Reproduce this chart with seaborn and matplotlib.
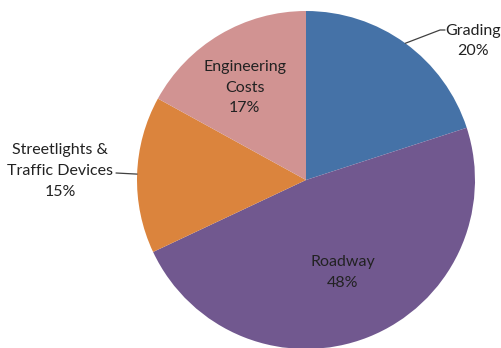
import numpy as np
import matplotlib
matplotlib.use("Agg")
import matplotlib.pyplot as plt
import seaborn as sns

categories = ["Grading", "Roadway", "Streetlights &\nTraffic Devices", "Engineering\nCosts"]
shares = [20, 48, 15, 17]
colors = ["#4572A7", "#71588F", "#DB843D", "#D19392"]

sns.set_theme(style="white")
plt.rcParams["font.family"] = ["Lato", "DejaVu Sans"]

W, H = 502, 348
fig = plt.figure(figsize=(W / 100, H / 100), dpi=100)
ax = fig.add_axes([0, 0, 1, 1])

cx, cy, r = 306, H - 180, 169
wedges, _ = ax.pie(shares, colors=colors, startangle=90, counterclock=False,
                   center=(cx, cy), radius=r, wedgeprops=dict(linewidth=0))
ax.set_xlim(0, W)
ax.set_ylim(0, H)
ax.set_aspect("equal")
ax.axis("off")

txt = dict(fontsize=11.5, color="#222222", ha="center", va="center", linespacing=1.6)

def mid(w):
    return np.deg2rad((w.theta1 + w.theta2) / 2)

# inner labels: Roadway and Engineering Costs
for i, frac, shift in [(1, 0.59, 0.0), (3, 0.655, 3.0)]:
    a = mid(wedges[i]) + np.deg2rad(shift)
    ax.text(cx + frac * r * np.cos(a), cy + frac * r * np.sin(a),
            f"{categories[i]}\n{shares[i]}%", **txt)

# outer labels with leader lines
# Grading
a = np.deg2rad(54)
px, py = cx + r * np.cos(a), cy + r * np.sin(a)
ax.plot([px, 440, 445], [py, H - 30, H - 30], color="#404040", lw=0.9)
ax.text(473, H - 41, f"{categories[0]}\n{shares[0]}%", **txt)

# Streetlights & Traffic Devices
a = np.deg2rad(178)
px, py = cx + r * np.cos(a), cy + r * np.sin(a)
ax.plot([px, 116], [py, H - 173], color="#404040", lw=0.9)
ax.text(60, H - 171, f"{categories[2]}\n{shares[2]}%", **txt)

fig.savefig("out.png", dpi=100, facecolor="white")
